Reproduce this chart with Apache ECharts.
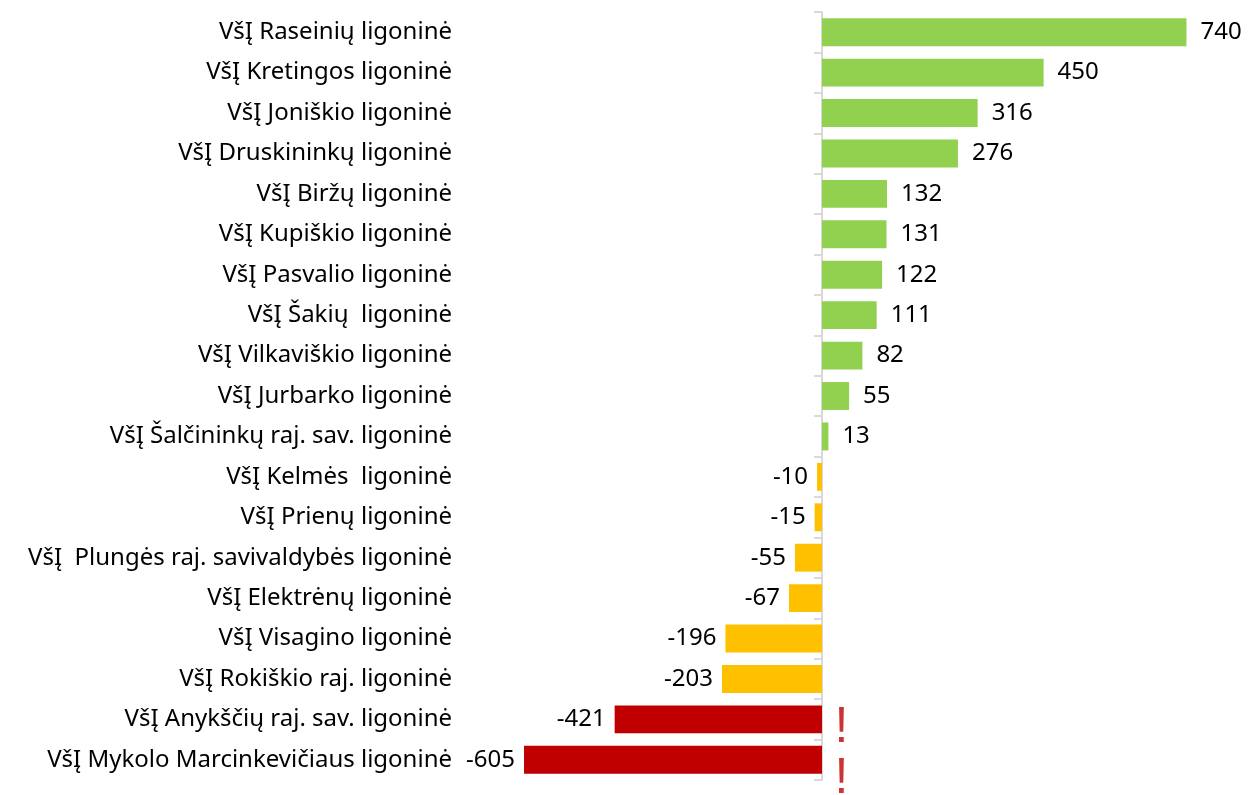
<!DOCTYPE html>
<html>
<head>
<meta charset="utf-8">
<script src="https://cdn.jsdelivr.net/npm/echarts@6/dist/echarts.min.js"></script>
<style>
  html, body { margin: 0; padding: 0; background: #fff; }
  #chart1 { width: 1250px; height: 795px; }
</style>
</head>
<body>
<div id="chart1"></div>
<script>
// kategorijos (ligoninės) ir reikšmės
var categories = [
    'VšĮ Raseinių ligoninė',
    'VšĮ Kretingos ligoninė',
    'VšĮ Joniškio ligoninė',
    'VšĮ Druskininkų ligoninė',
    'VšĮ Biržų ligoninė',
    'VšĮ Kupiškio ligoninė',
    'VšĮ Pasvalio ligoninė',
    'VšĮ Šakių  ligoninė',
    'VšĮ Vilkaviškio ligoninė',
    'VšĮ Jurbarko ligoninė',
    'VšĮ Šalčininkų raj. sav. ligoninė',
    'VšĮ Kelmės  ligoninė',
    'VšĮ Prienų ligoninė',
    'VšĮ  Plungės raj. savivaldybės ligoninė',
    'VšĮ Elektrėnų ligoninė',
    'VšĮ Visagino ligoninė',
    'VšĮ Rokiškio raj. ligoninė',
    'VšĮ Anykščių raj. sav. ligoninė',
    'VšĮ Mykolo Marcinkevičiaus ligoninė'
];
var values = [740, 450, 316, 276, 132, 131, 122, 111, 82, 55, 13, -10, -15, -55, -67, -196, -203, -421, -605];
// eilutės pažymėtos šauktuku
var warningRows = ['VšĮ Anykščių raj. sav. ligoninė', 'VšĮ Mykolo Marcinkevičiaus ligoninė'];

var FONT = 'Noto Sans';

function barColor(v) {
    if (v >= 0) return '#92D050';
    if (v > -300) return '#FFC000';
    return '#C00000';
}

var barData = values.map(function (v) {
    return {
        value: v,
        itemStyle: { color: barColor(v) },
        label: { position: v >= 0 ? 'right' : 'left', distance: v >= 0 ? 14 : 9 }
    };
});

var warnData = warningRows.map(function (name, i) {
    return {
        value: [0, name],
        label: { offset: [0, i === 0 ? 9 : 19] }
    };
});

var myChart = echarts.init(document.getElementById('chart1'));

var option = {
    animation: false,
    grid: { left: 460, right: 34, top: 12, bottom: 15, containLabel: false },
    xAxis: {
        type: 'value',
        min: -735,
        max: 800,
        axisLine: { show: false },
        axisTick: { show: false },
        axisLabel: { show: false },
        splitLine: { show: false }
    },
    yAxis: [
        {
            type: 'category',
            data: categories,
            inverse: true,
            position: 'left',
            axisLine: { show: false, onZero: false },
            axisTick: { show: false },
            axisLabel: { color: '#000', fontSize: 24, fontFamily: FONT, margin: 8 }
        },
        {
            type: 'category',
            data: categories,
            inverse: true,
            position: 'left',
            axisLine: { show: true, onZero: true, lineStyle: { color: '#d9d9d9', width: 2 } },
            axisTick: { show: true, length: 8, lineStyle: { color: '#d9d9d9', width: 2 } },
            axisLabel: { show: false }
        }
    ],
    series: [
        {
            type: 'bar',
            yAxisIndex: 0,
            barCategoryGap: '31%',
            data: barData,
            label: {
                show: true,
                color: '#000',
                fontSize: 24,
                fontFamily: FONT
            }
        },
        {
            type: 'scatter',
            yAxisIndex: 0,
            symbolSize: 1,
            itemStyle: { color: 'rgba(0,0,0,0)' },
            data: warnData,
            label: {
                show: true,
                formatter: '!',
                position: 'right',
                distance: 12,
                color: '#C00000',
                fontSize: 50,
                fontFamily: 'Liberation Sans'
            }
        }
    ]
};

myChart.setOption(option);
</script>
</body>
</html>
